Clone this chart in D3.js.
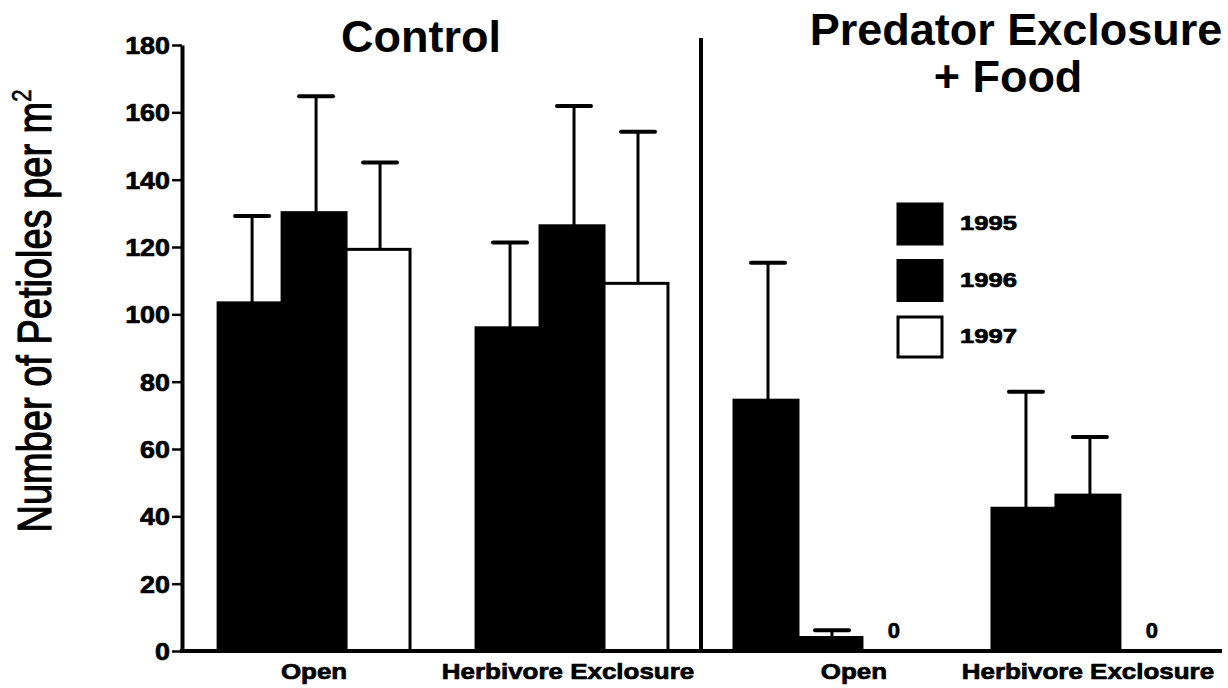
<!DOCTYPE html>
<html>
<head>
<meta charset="utf-8">
<script src="https://cdn.jsdelivr.net/npm/d3@7"></script>
<style>
  html, body { margin: 0; padding: 0; background: #fff; }
  svg { display: block; }
  text { font-family: "Liberation Sans", Arial, Helvetica, sans-serif; fill: #000; }
  .heavy { stroke: #000; stroke-width: 0.7px; stroke-linejoin: round; }
</style>
</head>
<body>
<svg id="chart" width="1228" height="688"></svg>
<script>
// Petiole density by treatment and year (mean and standard error)
const categories = ["Open", "Herbivore Exclosure", "Open", "Herbivore Exclosure"];
const panelTitles = [["Control"], ["Predator Exclosure", "+ Food"]];
const years = ["1995", "1996", "1997"];
const mean1995 = [103.4, 96.0, 74.5, 42.4];
const se1995   = [25.8, 25.3, 40.8, 34.6];
const mean1996 = [130.2, 126.3, 4.0, 46.3];
const se1996   = [34.6, 35.6, 2.2, 17.3];
const mean1997 = [119.3, 109.2, 0, 0];
const se1997   = [25.8, 45.0, null, null];
const yTicks = [0, 20, 40, 60, 80, 100, 120, 140, 160, 180];
const yLabel = "Number of Petioles per m";

const means = [mean1995, mean1996, mean1997];
const ses = [se1995, se1996, se1997];
const fills = ["#000", "#000", "#fff"];

const svg = d3.select("#chart");
const groupIds = categories.map((c, i) => i);

const x0 = d3.scaleBand().domain(groupIds).range([182, 1220])
  .paddingInner(0.256).paddingOuter(0.14);
const x1 = d3.scaleBand().domain(years).range([0, x0.bandwidth()]).padding(0);
const y = d3.scaleLinear().domain([0, 180]).range([651, 45]);

const rows = [];
groupIds.forEach(g => years.forEach((yr, k) => {
  rows.push({ g, yr, k, v: means[k][g], se: ses[k][g] });
}));

// bars
svg.append("g").selectAll("rect")
  .data(rows.filter(d => d.v > 0))
  .join("rect")
  .attr("x", d => x0(d.g) + x1(d.yr))
  .attr("y", d => y(d.v))
  .attr("width", x1.bandwidth())
  .attr("height", d => y(0) - y(d.v))
  .attr("fill", d => fills[d.k])
  .attr("stroke", "#000")
  .attr("stroke-width", 3);

// error bars (upper side only)
const eb = svg.append("g").selectAll("g")
  .data(rows.filter(d => d.v > 0 && d.se != null))
  .join("g")
  .attr("transform", d => `translate(${x0(d.g) + x1(d.yr) + x1.bandwidth() / 2 + 2},0)`);
eb.append("line")
  .attr("x1", 0).attr("x2", 0)
  .attr("y1", d => y(d.v)).attr("y2", d => y(d.v + d.se))
  .attr("stroke", "#000").attr("stroke-width", 3);
eb.append("line")
  .attr("x1", -17).attr("x2", 17)
  .attr("y1", d => y(d.v + d.se)).attr("y2", d => y(d.v + d.se))
  .attr("stroke", "#000").attr("stroke-width", 4).attr("stroke-linecap", "round");

// zero-value labels
svg.append("g").selectAll("text")
  .data(rows.filter(d => d.v === 0))
  .join("text")
  .attr("class", "heavy")
  .attr("x", d => x0(d.g) + x1(d.yr) + x1.bandwidth() / 2)
  .attr("y", d => y(d.v) - 13)
  .attr("text-anchor", "middle")
  .attr("font-size", 22).attr("font-weight", "bold")
  .text(d => d3.format("d")(d.v));

// y axis
const yAxis = svg.append("g").attr("transform", `translate(${x0.range()[0]},0)`)
  .call(d3.axisLeft(y).tickValues(yTicks).tickSize(10).tickSizeOuter(0));
yAxis.select(".domain").attr("stroke-width", 4);
yAxis.selectAll(".tick line").attr("stroke-width", 2.5);
yAxis.selectAll(".tick text")
  .attr("class", "heavy")
  .attr("x", null).attr("dy", "0.36em")
  .attr("transform", "translate(-12,0) scale(1.12,1)")
  .attr("font-size", 24).attr("font-weight", "bold")
  .attr("font-family", "Liberation Sans, Arial, sans-serif")
  .attr("fill", "#000");

// baseline
svg.append("line")
  .attr("x1", x0.range()[0] - 2).attr("x2", x0.range()[1] + 2)
  .attr("y1", y(0)).attr("y2", y(0))
  .attr("stroke", "#000").attr("stroke-width", 4);

// panel divider
const divX = (x0(1) + x0.bandwidth() + x0(2)) / 2;
svg.append("line")
  .attr("x1", divX).attr("x2", divX)
  .attr("y1", 38).attr("y2", y(0))
  .attr("stroke", "#000").attr("stroke-width", 4);

// category labels
const labelShift = [0, -4, 24, 0];
svg.append("g").selectAll("text")
  .data(groupIds)
  .join("text")
  .attr("class", "heavy")
  .attr("transform", g => `translate(${x0(g) + x0.bandwidth() / 2 + labelShift[g]},679) scale(1.18,1)`)
  .attr("text-anchor", "middle")
  .attr("font-size", 22).attr("font-weight", "bold")
  .text(g => categories[g]);

// panel titles
const titlePos = [[421, 52], [1016, 45]];
panelTitles.forEach((lines, i) => {
  const t = svg.append("text")
    .attr("text-anchor", "middle")
    .attr("font-size", 45).attr("font-weight", "bold");
  lines.forEach((ln, j) => {
    t.append("tspan")
      .attr("x", titlePos[i][0] - (j > 0 ? 8 : 0))
      .attr("y", titlePos[i][1] + j * 47)
      .text(ln);
  });
});

// y-axis title
const yt = svg.append("text")
  .attr("transform", "translate(51,311) rotate(-90) scale(1,1.25)")
  .attr("text-anchor", "middle")
  .attr("font-size", 38)
  .attr("stroke", "#000").attr("stroke-width", 0.9);
yt.append("tspan").text(yLabel);
yt.append("tspan").attr("font-size", 22).attr("dy", -16).attr("stroke-width", 0.5).text("2");

// legend
const legend = svg.append("g").selectAll("g")
  .data(years)
  .join("g")
  .attr("transform", (d, i) => `translate(898,${204 + i * 56.5})`);
legend.append("rect")
  .attr("width", 44).attr("height", 40)
  .attr("fill", (d, i) => fills[i])
  .attr("stroke", "#000").attr("stroke-width", 3);
legend.append("text")
  .attr("class", "heavy")
  .attr("transform", "translate(62,26) scale(1.28,1)")
  .attr("font-size", 20).attr("font-weight", "bold")
  .text(d => d);
</script>
</body>
</html>
